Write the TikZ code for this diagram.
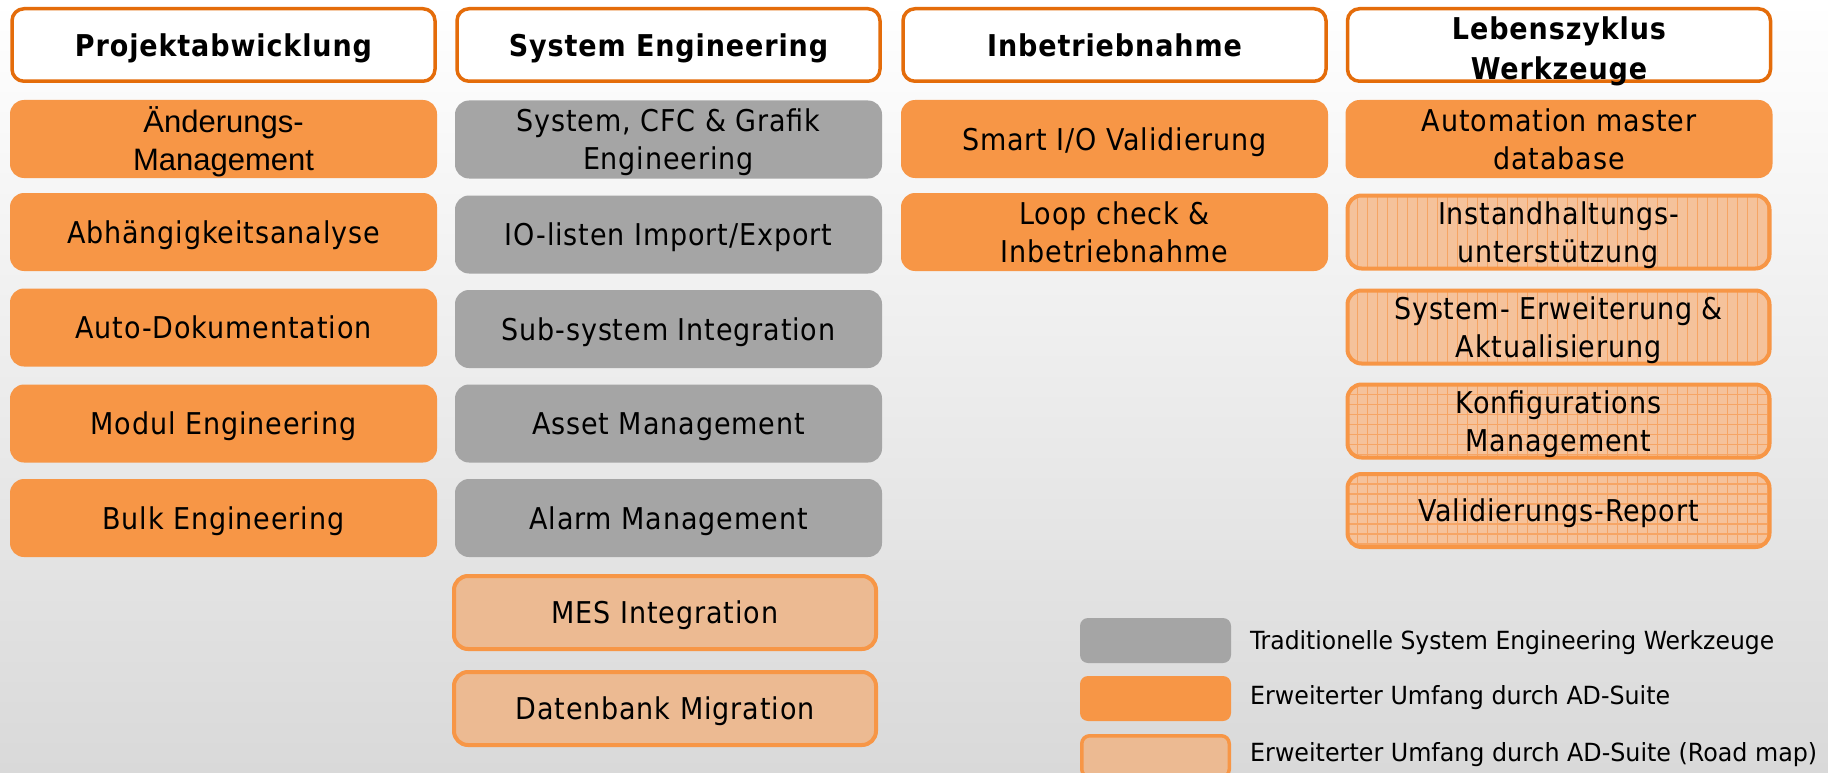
\documentclass[tikz,border=0pt]{standalone}
\usepackage{fontspec}
\setmainfont[LetterSpace=3]{DejaVu Sans Condensed}
\newfontfamily\legf{DejaVu Sans Condensed}
\newfontfamily\arialf{Liberation Sans}
\definecolor{org}{HTML}{F79646}
\definecolor{hdrc}{HTML}{E46C0A}
\definecolor{grayc}{HTML}{A5A5A5}
\definecolor{tanc}{HTML}{ECBA92}
\definecolor{lightc}{HTML}{F5C29B}
\definecolor{hatchc}{HTML}{F6A565}
\definecolor{bgbot}{HTML}{D9D9D9}
\begin{document}
\begin{tikzpicture}[x=1pt,y=-1pt,
  every node/.style={inner sep=0pt, align=center, text=black},
  hdr/.style={draw=hdrc, line width=3.5pt, fill=white, rounded corners=12pt, text depth=0pt,
    minimum width=423pt, minimum height=72.5pt, font=\bfseries\fontsize{30}{40}\selectfont},
  box/.style={rounded corners=14pt, minimum width=427pt, minimum height=78pt, text depth=0pt,
    font=\fontsize{30}{38}\selectfont},
  ob/.style={box, fill=org},
  gb/.style={box, fill=grayc},
  rb/.style={box, fill=tanc, draw=org, line width=4pt, minimum width=422pt, minimum height=73pt},
  vhatch/.style={box, fill=lightc, draw=org, line width=4pt, minimum width=422pt, minimum height=73pt,
    path picture={\foreach \i in {1,...,43}
      \draw[hatchc, line width=1.2pt] ([xshift=\i*10pt]path picture bounding box.north west)
        -- ([xshift=\i*10pt]path picture bounding box.south west);}},
  ghatch/.style={vhatch,
    path picture={\foreach \i in {1,...,43}
      \draw[hatchc, line width=1.2pt] ([xshift=\i*10pt]path picture bounding box.north west)
        -- ([xshift=\i*10pt]path picture bounding box.south west);
      \foreach \j in {1,...,8}
      \draw[hatchc, line width=1.2pt] ([yshift=-\j*10pt]path picture bounding box.north west)
        -- ([yshift=-\j*10pt]path picture bounding box.north east);}},
  legbox/.style={rounded corners=8pt, minimum width=151pt, minimum height=45pt},
  legtxt/.style={anchor=west, font=\legf\fontsize{25}{30}\selectfont}
]
\useasboundingbox (0,0) rectangle (1828,773);
\shade[top color=white, bottom color=bgbot] (0,0) rectangle (1828,773);

% headers
\node[hdr] (h1) at (223.5,45) {Projektabwicklung};
\node[hdr] (h2) at (668.5,45) {System Engineering};
\node[hdr] (h3) at (1114.5,45) {Inbetriebnahme};
\node[hdr] (h4) at (1559,45) {\raisebox{-12.5pt}[0pt][0pt]{\begin{tabular}{@{}c@{}}Lebenszyklus\\Werkzeuge\end{tabular}}};

% column 1
\node[ob, font=\arialf\fontsize{31}{38}\selectfont] (a1) at (223.5,139) {Änderungs-\\Management};
\node[ob] (a2) at (223.5,232) {Abhängigkeitsanalyse};
\node[ob] (a3) at (223.5,327.5) {Auto-Dokumentation};
\node[ob] (a4) at (223.5,423.5) {Modul Engineering};
\node[ob] (a5) at (223.5,518) {Bulk Engineering};

% column 2
\node[gb] (b1) at (668.5,139.5) {System, CFC \& Grafik\\Engineering};
\node[gb] (b2) at (668.5,234.5) {IO-listen Import/Export};
\node[gb] (b3) at (668.5,329) {Sub-system Integration};
\node[gb] (b4) at (668.5,423.5) {Asset Management};
\node[gb] (b5) at (668.5,518) {Alarm Management};
\node[rb] (b6) at (665,612.5) {MES Integration};
\node[rb] (b7) at (665,708.5) {Datenbank Migration};

% column 3
\node[ob] (c1) at (1114.5,139) {Smart I/O Validierung};
\node[ob] (c2) at (1114.5,232) {Loop check \&\\Inbetriebnahme};

% column 4
\node[ob] (d1) at (1559,139) {Automation master\\database};
\node[vhatch] (d2) at (1558.5,232) {Instandhaltungs-\\unterstützung};
\node[vhatch] (d3) at (1558.5,327) {System- Erweiterung \&\\Aktualisierung};
\node[ghatch] (d4) at (1558.5,421) {Konfigurations\\Management};
\node[ghatch] (d5) at (1558.5,510.5) {Validierungs-Report};

% legend
\begin{scope}
\clip (0,0) rectangle (1828,773);
\node[legbox, fill=grayc] (l1) at (1155.5,640.5) {};
\node[legbox, fill=org] (l2) at (1155.5,698.5) {};
\node[legbox, fill=tanc, draw=org, line width=3.5pt, minimum width=147.5pt, minimum height=41.5pt] (l3) at (1155.5,756.5) {};
\end{scope}
\node[legtxt] (t1) at (1250,643) {\resizebox{524pt}{\height}{Traditionelle System Engineering Werkzeuge}};
\node[legtxt] (t2) at (1250,698) {\resizebox{420pt}{\height}{Erweiterter Umfang durch AD-Suite}};
\node[legtxt] (t3) at (1250,755) {\resizebox{567pt}{\height}{Erweiterter Umfang durch AD-Suite (Road map)}};
\end{tikzpicture}
\end{document}
